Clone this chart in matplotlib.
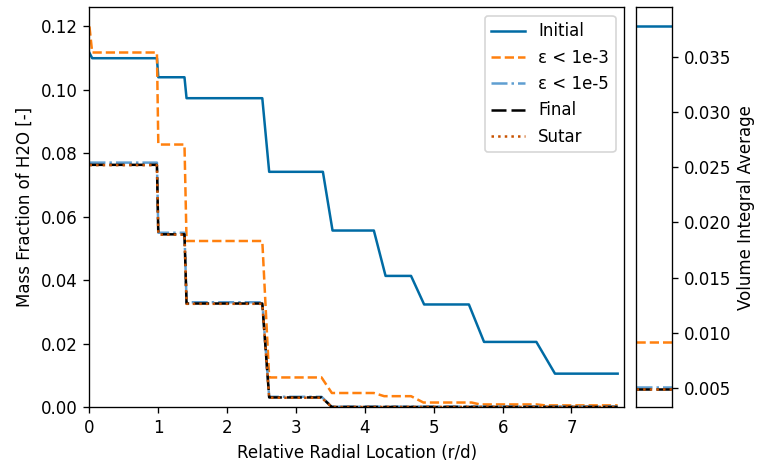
import matplotlib
matplotlib.use("Agg")
import matplotlib.pyplot as plt

# Radial profiles of H2O mass fraction (vertices of each profile)
x_initial = [0, 0.04, 0.98, 1.00, 1.38, 1.41, 2.51, 2.61, 3.39, 3.53, 4.13, 4.30,
             4.67, 4.86, 5.51, 5.73, 6.49, 6.76, 7.67]
y_initial = [0.1117, 0.1100, 0.1100, 0.1040, 0.1040, 0.0974, 0.0974, 0.0742, 0.0742,
             0.0557, 0.0557, 0.0414, 0.0414, 0.0324, 0.0324, 0.0206, 0.0206, 0.0106, 0.0106]

x_eps3 = [0, 0.04, 0.98, 1.00, 1.38, 1.41, 2.51, 2.61, 3.37, 3.52, 4.13, 4.28,
          4.67, 4.85, 5.55, 5.67, 6.49, 6.62, 7.67]
y_eps3 = [0.1200, 0.1118, 0.1118, 0.0828, 0.0828, 0.0524, 0.0524, 0.0094, 0.0094,
          0.0045, 0.0045, 0.0035, 0.0035, 0.0015, 0.0015, 0.0009, 0.0009, 0.0006, 0.0006]

x_steps = [0, 0.98, 1.00, 1.38, 1.41, 2.51, 2.61, 3.37, 3.52, 7.67]
y_eps5 = [0.0771, 0.0771, 0.0550, 0.0550, 0.0331, 0.0331, 0.0033, 0.0033, 0.0002, 0.0002]
y_final = [0.0764, 0.0764, 0.0545, 0.0545, 0.0327, 0.0327, 0.0031, 0.0031, 0.0001, 0.0001]
y_sutar = [0.0763, 0.0763, 0.0544, 0.0544, 0.0326, 0.0326, 0.0030, 0.0030, 0.0001, 0.0001]

# Volume integral averages
vi_initial = 0.0378
vi_eps3 = 0.0092
vi_eps5 = 0.0051
vi_final = 0.0049
vi_sutar = 0.0049

labels = ["Initial", "ε < 1e-3", "ε < 1e-5", "Final", "Sutar"]
colors = ["#006BA4", "#FF800E", "#5F9ED1", "#000000", "#C85200"]
styles = [dict(linestyle="-"), dict(linestyle="--"), dict(linestyle="-."),
          dict(dashes=(6, 2)), dict(linestyle=":")]

fig = plt.figure(figsize=(758 / 120, 466 / 120), dpi=120)
ax = fig.add_axes([0.118, 0.126, 0.705, 0.858])
axv = fig.add_axes([0.8387, 0.126, 0.0475, 0.858])

profiles = [(x_initial, y_initial), (x_eps3, y_eps3), (x_steps, y_eps5),
            (x_steps, y_final), (x_steps, y_sutar)]
for (xs, ys), lab, col, st in zip(profiles, labels, colors, styles):
    ax.plot(xs, ys, color=col, lw=1.5, label=lab, **st)

ax.set_xlim(0, 7.76)
ax.set_ylim(bottom=0)
ax.set_xlabel("Relative Radial Location (r/d)")
ax.set_ylabel("Mass Fraction of H2O [-]")
ax.legend(loc="upper right")

vals = [vi_initial, vi_eps3, vi_eps5, vi_final, vi_sutar]
for v, col, st in zip(vals, colors, styles):
    axv.plot([0, 1], [v, v], color=col, lw=1.5, **st)
axv.set_xlim(0, 1)
axv.set_xticks([])
axv.yaxis.tick_right()
axv.yaxis.set_label_position("right")
axv.set_ylabel("Volume Integral Average")

fig.savefig("out.png", dpi=120)
